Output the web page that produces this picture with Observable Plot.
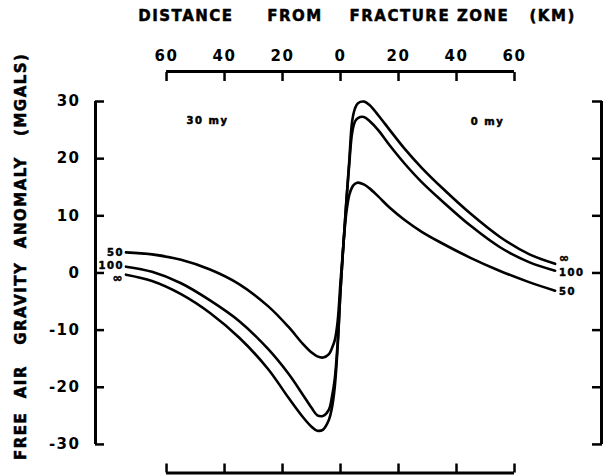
<!DOCTYPE html>
<html><head><meta charset="utf-8">
<script src="https://cdn.jsdelivr.net/npm/d3@7"></script>
<script src="https://cdn.jsdelivr.net/npm/@observablehq/plot@0.6"></script>
<style>
body{margin:0;background:#fff}
#chart svg{display:block}
</style>
</head><body><div id="chart"></div>
<script>
// ---- data ----
const distanceKm = [-74, -65, -55, -45, -35, -25, -18, -13, -10, -8, -6, -4, -3, -2, -1, 0, 1, 2, 3, 4, 5, 6, 8, 10, 13, 17, 22, 28, 35, 45, 55, 65, 74];
const anomaly50  = [3.6, 3.25, 2.3, 0.6, -1.95, -5.8, -9.4, -12.4, -13.9, -14.6, -14.8, -14.2, -13.2, -11.8, -8.5, -1.5, 5.0, 10.5, 13.6, 15.0, 15.6, 15.8, 15.5, 14.8, 13.4, 11.4, 9.3, 7.2, 5.2, 2.6, 0.35, -1.6, -3.1];
const anomaly100 = [1.1, 0.2, -1.8, -4.8, -8.4, -13.3, -17.6, -21.3, -23.6, -24.9, -25.0, -23.9, -21.8, -18.6, -12.3, -3.0, 5.0, 12.5, 19.0, 24.5, 26.5, 27.1, 27.3, 26.6, 25.0, 22.3, 19.2, 15.9, 12.6, 8.2, 4.5, 1.9, 0.4];
const anomalyInf = [-0.3, -1.4, -3.7, -7.0, -11.3, -16.8, -21.8, -25.2, -26.9, -27.6, -27.4, -25.7, -23.7, -20.0, -13.0, -3.0, 5.0, 12.5, 19.5, 26.5, 28.8, 29.7, 30.0, 29.4, 27.6, 25.0, 21.8, 18.4, 14.9, 10.3, 6.3, 3.3, 1.6];
const seriesNames = ["50", "100", "\u221E"];
const xTicks = [-60, -40, -20, 0, 20, 40, 60];
const yTicks = [-30, -20, -10, 0, 10, 20, 30];
const ageLabels = ["30 my", "0 my"];
const titleText = "DISTANCE\u00a0\u00a0\u00a0\u00a0\u00a0FROM\u00a0\u00a0\u00a0\u00a0FRACTURE\u00a0ZONE\u00a0\u00a0\u00a0(KM)";
const yLabelText = "FREE\u00a0\u00a0AIR\u00a0\u00a0\u00a0GRAVITY\u00a0\u00a0ANOMALY\u00a0\u00a0\u00a0(MGALS)";

// ---- build table ----
const seriesValues = [anomaly50, anomaly100, anomalyInf];
const rows = [];
seriesNames.forEach((s, k) => distanceKm.forEach((d, i) => rows.push({series: s, km: d, mgal: seriesValues[k][i]})));
const firstPts = seriesNames.map((s, k) => ({series: s, km: distanceKm[0], mgal: seriesValues[k][0]}));
const lastPts = seriesNames.map((s, k) => ({series: s, km: distanceKm[distanceKm.length - 1], mgal: seriesValues[k][distanceKm.length - 1]}));

// ---- layout ----
const xDomain = [-84.5, 90];
const yDomain = [-35, 35.25];
const ink = "#000";
const textStroke = {stroke: ink, strokeWidth: 0.5};
const leftNudge = {"50": 0, "100": -1, "\u221E": 3.5};
const rightNudge = {"50": 1, "100": 2.5, "\u221E": -6};
const labelSize = {"50": 10, "100": 10, "\u221E": 12};

const labelMarks = [];
firstPts.forEach(p => labelMarks.push(Plot.text([p], {x: "km", y: "mgal", text: "series", textAnchor: "end", dx: -2, dy: leftNudge[p.series], fontSize: labelSize[p.series], fill: ink, ...textStroke})));
lastPts.forEach(p => labelMarks.push(Plot.text([p], {x: "km", y: "mgal", text: "series", textAnchor: "start", dx: 4, dy: rightNudge[p.series], fontSize: labelSize[p.series], fill: ink, ...textStroke})));

const chart = Plot.plot({
  width: 606,
  height: 475,
  marginLeft: 95,
  marginRight: 5,
  marginTop: 71,
  marginBottom: 2.5,
  x: {domain: xDomain},
  y: {domain: yDomain},
  style: {fontFamily: "'DejaVu Sans', sans-serif", fontWeight: "bold", letterSpacing: "1.5px", color: ink, background: "#fff"},
  marks: [
    // axis lines
    Plot.ruleX([xDomain[0]], {y1: yTicks[0], y2: yTicks[yTicks.length - 1], strokeWidth: 3, stroke: ink}),
    Plot.ruleX([xDomain[1]], {y1: yTicks[0], y2: yTicks[yTicks.length - 1], strokeWidth: 3, stroke: ink}),
    Plot.ruleY([yDomain[1]], {x1: xTicks[0], x2: xTicks[xTicks.length - 1], strokeWidth: 3, stroke: ink}),
    Plot.ruleY([yDomain[0]], {x1: xTicks[0], x2: xTicks[xTicks.length - 1], strokeWidth: 3, stroke: ink}),
    // axes with inward ticks
    Plot.axisY({anchor: "left", ticks: yTicks, tickSize: -9, tickPadding: 24, tickFormat: d => String(d), fontSize: 15, label: null, strokeWidth: 2.5}),
    Plot.axisY({anchor: "right", ticks: yTicks, tickSize: -10, tickFormat: () => "", label: null, strokeWidth: 2.5}),
    Plot.axisX({anchor: "top", ticks: xTicks, tickSize: -9, tickPadding: 20, tickFormat: d => String(Math.abs(d)), fontSize: 15, label: null, strokeWidth: 2.5}),
    Plot.axisX({anchor: "bottom", ticks: xTicks, tickSize: -9, tickFormat: () => "", label: null, strokeWidth: 2.5}),
    // curves
    Plot.line(rows, {x: "km", y: "mgal", z: "series", curve: "catmull-rom", stroke: ink, strokeWidth: 2.6}),
    ...labelMarks,
    // titles
    Plot.text([titleText], {text: d => d, frameAnchor: "top", dx: 8.5, dy: -51, lineAnchor: "bottom", fontSize: 15, fill: ink, ...textStroke}),
    Plot.text([yLabelText], {text: d => d, frameAnchor: "left", rotate: -90, dx: -74, dy: -16, textAnchor: "middle", lineAnchor: "middle", fontSize: 15, fill: ink, ...textStroke}),
    Plot.text([ageLabels[0]], {text: d => d, frameAnchor: "top-left", dx: 112, dy: 49, textAnchor: "middle", lineAnchor: "middle", fontSize: 10, fill: ink, ...textStroke}),
    Plot.text([ageLabels[1]], {text: d => d, frameAnchor: "top-right", dx: -114, dy: 50, textAnchor: "middle", lineAnchor: "middle", fontSize: 10, fill: ink, ...textStroke})
  ]
});
document.getElementById("chart").appendChild(chart);
</script>
</body></html>
